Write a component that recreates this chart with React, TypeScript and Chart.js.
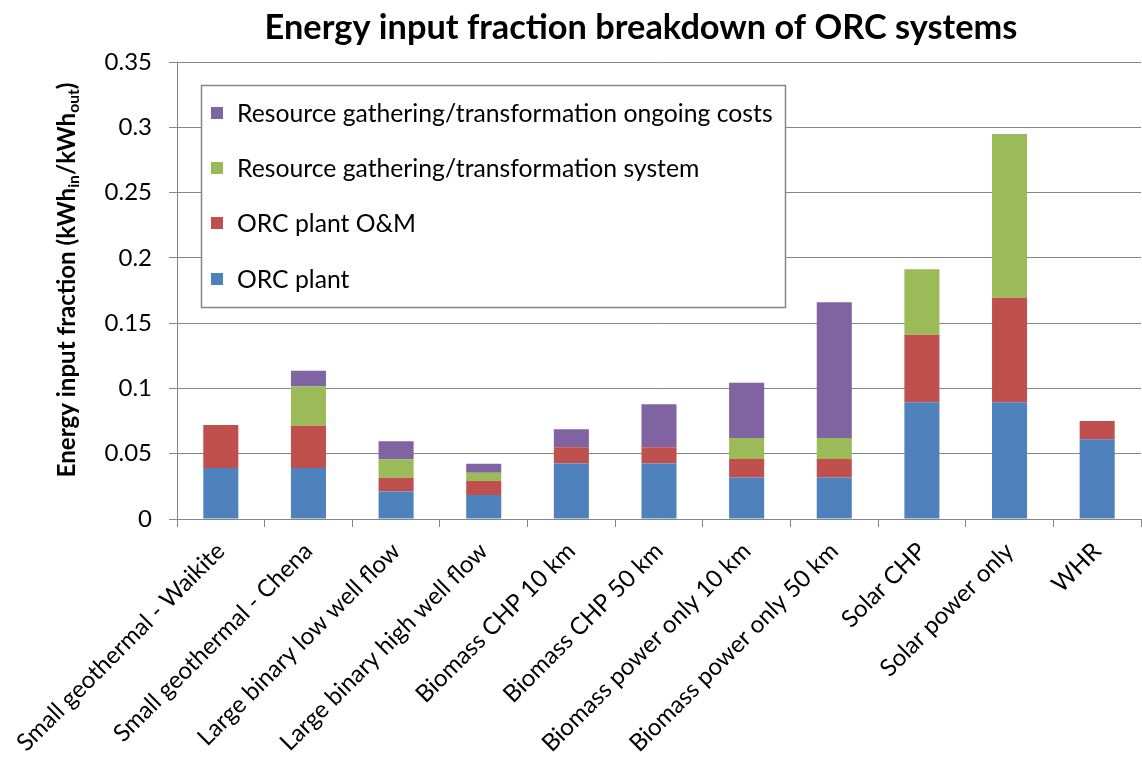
import React, { useEffect, useRef } from 'react';
import { Chart, registerables } from 'chart.js';

Chart.register(...registerables);

const categories = [
  'Small geothermal - Waikite',
  'Small geothermal - Chena',
  'Large binary low well flow',
  'Large binary high well flow',
  'Biomass CHP 10 km',
  'Biomass CHP 50 km',
  'Biomass power only 10 km',
  'Biomass power only 50 km',
  'Solar CHP',
  'Solar power only',
  'WHR',
];
const orcPlant = [0.039, 0.039, 0.021, 0.0184, 0.0426, 0.0426, 0.0317, 0.0317, 0.0894, 0.0894, 0.061];
const orcPlantOM = [0.033, 0.0325, 0.0105, 0.0107, 0.0123, 0.0123, 0.0143, 0.0143, 0.0518, 0.0801, 0.0141];
const resourceSystem = [0, 0.03, 0.0143, 0.0064, 0, 0, 0.016, 0.016, 0.05, 0.1254, 0];
const resourceOngoing = [0, 0.012, 0.0137, 0.0069, 0.0138, 0.0329, 0.0424, 0.104, 0, 0, 0];

const seriesNames = [
  'ORC plant',
  'ORC plant O&M',
  'Resource gathering/transformation system',
  'Resource gathering/transformation ongoing costs',
];
const seriesColors = ['#4F81BD', '#C0504D', '#9BBB59', '#8064A2'];

const titleText = 'Energy input fraction breakdown of ORC systems';
const yMax = 0.35;
const yStep = 0.05;

const FONT = 'Lato, Carlito, Calibri, "Open Sans", sans-serif';
const GRID = '#868686';

function fitFont(ctx: CanvasRenderingContext2D, text: string, weight: string, target: number) {
  ctx.font = `${weight} 20px ${FONT}`;
  const w = ctx.measureText(text).width;
  return (20 * target) / w;
}

const overlayPlugin = {
  id: 'overlay',
  afterDraw(chart: any) {
    const ctx: CanvasRenderingContext2D = chart.ctx;
    ctx.save();
    ctx.fillStyle = '#000';

    // Title
    const tSize = fitFont(ctx, titleText, 'bold', 753);
    ctx.font = `bold ${tSize}px ${FONT}`;
    ctx.textAlign = 'center';
    ctx.textBaseline = 'alphabetic';
    ctx.fillText(titleText, 641, 39);

    // Y axis title with subscripts
    const segs = [
      { t: 'Energy input fraction (kWh', sub: false },
      { t: 'in', sub: true },
      { t: '/kWh', sub: false },
      { t: 'out', sub: true },
      { t: ')', sub: false },
    ];
    const mainSize = 20;
    const subSize = 13;
    const measure = (scale: number) => {
      let w = 0;
      for (const s of segs) {
        ctx.font = `bold ${(s.sub ? subSize : mainSize) * scale}px ${FONT}`;
        w += ctx.measureText(s.t).width;
      }
      return w;
    };
    const scale = 395 / measure(1);
    const total = measure(scale);
    ctx.translate(68, 280);
    ctx.rotate(-Math.PI / 2);
    ctx.textAlign = 'left';
    let x = -total / 2;
    for (const s of segs) {
      const size = (s.sub ? subSize : mainSize) * scale;
      ctx.font = `bold ${size}px ${FONT}`;
      ctx.fillText(s.t, x, s.sub ? 11 : 7);
      x += ctx.measureText(s.t).width;
    }
    ctx.setTransform(1, 0, 0, 1, 0, 0);

    // Legend box
    ctx.fillStyle = '#fff';
    ctx.fillRect(201, 85, 584, 222);
    ctx.strokeStyle = GRID;
    ctx.lineWidth = 1.5;
    ctx.strokeRect(201.5, 85.5, 584, 222);
    const lSize = fitFont(ctx, seriesNames[3], 'normal', 536);
    ctx.font = `${lSize}px ${FONT}`;
    ctx.textAlign = 'left';
    ctx.textBaseline = 'middle';
    const rows = [113, 168, 223, 279];
    for (let i = 0; i < 4; i++) {
      const idx = 3 - i;
      ctx.fillStyle = seriesColors[idx];
      ctx.fillRect(211, rows[i] - 6, 12, 12);
      ctx.fillStyle = '#000';
      ctx.fillText(seriesNames[idx], 237, rows[i] + 1);
    }
    ctx.restore();
  },
};

export default function App() {
  const ref = useRef<HTMLCanvasElement | null>(null);
  useEffect(() => {
    if (!ref.current) return;
    const values = [orcPlant, orcPlantOM, resourceSystem, resourceOngoing];
    const chart = new Chart(ref.current, {
      type: 'bar',
      data: {
        labels: categories,
        datasets: values.map((v, i) => ({
          label: seriesNames[i],
          data: v,
          backgroundColor: seriesColors[i],
          borderWidth: 0,
          barPercentage: 0.4,
          categoryPercentage: 1,
        })),
      },
      options: {
        responsive: false,
        animation: false,
        layout: { padding: { top: 62, left: 0, right: 1, bottom: 0 } },
        plugins: {
          legend: { display: false },
          title: { display: false },
          tooltip: { enabled: false },
        },
        scales: {
          x: {
            stacked: true,
            afterFit: (s: any) => {
              s.height = 244;
            },
            grid: {
              drawOnChartArea: false,
              offset: true,
              tickLength: 8,
              color: GRID,
              lineWidth: 1,
            },
            border: { color: GRID, width: 1 },
            ticks: {
              autoSkip: false,
              maxRotation: 45,
              minRotation: 45,
              color: '#000',
              padding: 10,
              font: { family: FONT, size: 24 },
            },
          },
          y: {
            stacked: true,
            min: 0,
            max: yMax,
            afterFit: (s: any) => {
              s.width = 177;
            },
            grid: { color: GRID, lineWidth: 1, tickLength: 8 },
            border: { color: GRID, width: 1 },
            ticks: {
              stepSize: yStep,
              color: '#000',
              padding: 17,
              font: { family: FONT, size: 24 },
              callback: (v: any) => String(Number(Number(v).toFixed(2))),
            },
          },
        },
      },
      plugins: [overlayPlugin],
    });
    return () => chart.destroy();
  }, []);
  return (
    <div style={{ position: 'fixed', left: 0, top: 0, width: 1142, height: 763, background: '#fff' }}>
      <canvas ref={ref} width={1142} height={763} style={{ display: 'block' }} />
    </div>
  );
}
